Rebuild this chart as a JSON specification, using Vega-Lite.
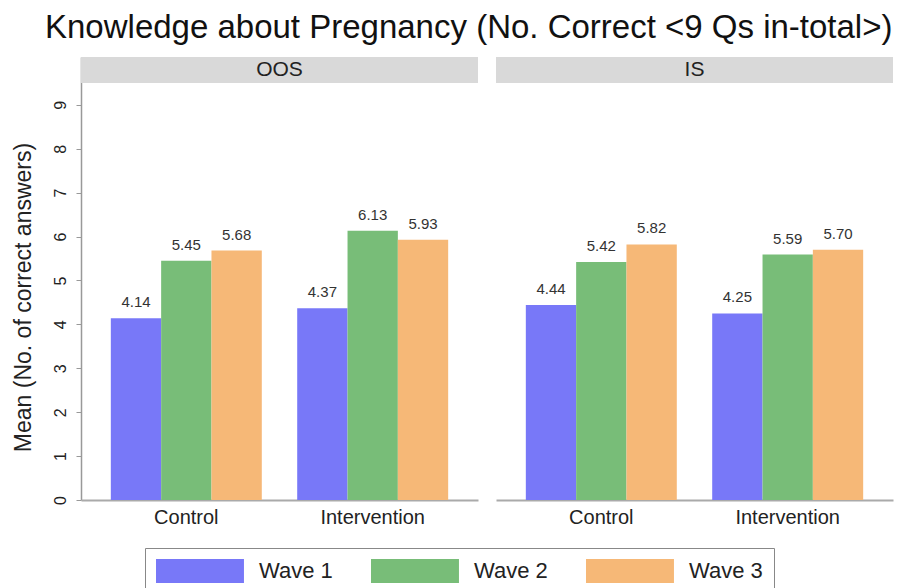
{
  "$schema": "https://vega.github.io/schema/vega-lite/v6.json",
  "padding": {"left": 12, "top": 12, "right": 2, "bottom": 0},
  "background": "white",
  "title": {
    "text": "Knowledge about Pregnancy (No. Correct <9 Qs in-total>)",
    "fontSize": 33,
    "font": "Liberation Sans",
    "fontWeight": "normal",
    "color": "#111111",
    "anchor": "start",
    "frame": "bounds",
    "dx": 33,
    "offset": 12
  },
  "data": {
    "values": [
      {"panel": "OOS", "group": "Control", "wave": "Wave 1", "value": 4.14},
      {"panel": "OOS", "group": "Control", "wave": "Wave 2", "value": 5.45},
      {"panel": "OOS", "group": "Control", "wave": "Wave 3", "value": 5.68},
      {"panel": "OOS", "group": "Intervention", "wave": "Wave 1", "value": 4.37},
      {"panel": "OOS", "group": "Intervention", "wave": "Wave 2", "value": 6.13},
      {"panel": "OOS", "group": "Intervention", "wave": "Wave 3", "value": 5.93},
      {"panel": "IS", "group": "Control", "wave": "Wave 1", "value": 4.44},
      {"panel": "IS", "group": "Control", "wave": "Wave 2", "value": 5.42},
      {"panel": "IS", "group": "Control", "wave": "Wave 3", "value": 5.82},
      {"panel": "IS", "group": "Intervention", "wave": "Wave 1", "value": 4.25},
      {"panel": "IS", "group": "Intervention", "wave": "Wave 2", "value": 5.59},
      {"panel": "IS", "group": "Intervention", "wave": "Wave 3", "value": 5.70}
    ]
  },
  "facet": {
    "column": {"field": "panel", "type": "nominal", "sort": ["OOS", "IS"], "header": null}
  },
  "spacing": 18,
  "spec": {
    "width": 397,
    "height": 443,
    "layer": [
      {
        "transform": [{"aggregate": [{"op": "count", "as": "n"}], "groupby": ["panel"]}],
        "mark": {"type": "rect", "color": "#d9d9d9"},
        "encoding": {
          "y": {"datum": 9.5, "type": "quantitative", "scale": {"domain": [0, 10.09], "nice": false, "zero": true}, "title": "Mean (No. of correct answers)", "axis": {"values": [0, 1, 2, 3, 4, 5, 6, 7, 8, 9]}},
          "y2": {"datum": 10.09}
        }
      },
      {
        "transform": [{"aggregate": [{"op": "count", "as": "n"}], "groupby": ["panel"]}],
        "mark": {"type": "text", "fontSize": 21, "font": "Liberation Sans", "color": "#222222", "baseline": "middle", "align": "center"},
        "encoding": {
          "y": {"datum": 9.795, "type": "quantitative", "scale": {"domain": [0, 10.09], "nice": false, "zero": true}, "title": "Mean (No. of correct answers)", "axis": {"values": [0, 1, 2, 3, 4, 5, 6, 7, 8, 9]}},
          "text": {"field": "panel", "type": "nominal"}
        }
      },
      {
        "mark": {"type": "bar"},
        "encoding": {
          "x": {"field": "group", "type": "nominal", "title": null,
                "scale": {"paddingInner": 0.19, "paddingOuter": 0.16},
                "axis": {"labelAngle": 0, "labelFontSize": 20, "labelFont": "Liberation Sans", "labelColor": "#222222", "ticks": false, "labelPadding": 7, "domainColor": "#aaaaaa", "domainWidth": 2}},
          "xOffset": {"field": "wave", "type": "nominal", "scale": {"paddingInner": 0, "paddingOuter": 0}},
          "y": {"field": "value", "type": "quantitative", "title": "Mean (No. of correct answers)",
                "scale": {"domain": [0, 10.09], "nice": false, "zero": true},
                "axis": {"values": [0, 1, 2, 3, 4, 5, 6, 7, 8, 9]}},
          "color": {"field": "wave", "type": "nominal",
                    "scale": {"domain": ["Wave 1", "Wave 2", "Wave 3"], "range": ["#7878f8", "#78bd78", "#f6b877"]},
                    "legend": {"title": null}}
        }
      },
      {
        "mark": {"type": "text", "fontSize": 15, "font": "Liberation Sans", "color": "#333333", "baseline": "alphabetic", "dy": -11},
        "encoding": {
          "x": {"field": "group", "type": "nominal", "title": null},
          "xOffset": {"field": "wave", "type": "nominal"},
          "y": {"field": "value", "type": "quantitative", "title": "Mean (No. of correct answers)",
                "scale": {"domain": [0, 10.09], "nice": false, "zero": true},
                "axis": {"values": [0, 1, 2, 3, 4, 5, 6, 7, 8, 9]}},
          "text": {"field": "value", "type": "quantitative", "format": ".2f"}
        }
      }
    ]
  },
  "config": {
    "view": {"stroke": null},
    "font": "Liberation Sans",
    "axisY": {
      "labelAngle": -90,
      "labelFontSize": 16,
      "labelColor": "#222222",
      "labelPadding": 8,
      "tickSize": 5,
      "tickColor": "#999999",
      "domainColor": "#999999",
      "domainWidth": 1.5,
      "grid": false,
      "titleFontSize": 23,
      "titleFontWeight": "normal",
      "titleColor": "#222222",
      "titlePadding": 17,
      "titleY": 240
    },
    "legend": {
      "orient": "none",
      "legendX": 64,
      "legendY": 491,
      "direction": "horizontal",
      "columns": 3,
      "symbolType": "M-1,-1H6.33V1H-1Z",
      "symbolSize": 576,
      "symbolStrokeWidth": 0,
      "symbolOpacity": 1,
      "labelFontSize": 22,
      "labelFont": "Liberation Sans",
      "labelColor": "#222222",
      "labelOffset": 79,
      "columnPadding": 38,
      "padding": 11,
      "strokeColor": "#888888",
      "fillColor": "white"
    }
  }
}
